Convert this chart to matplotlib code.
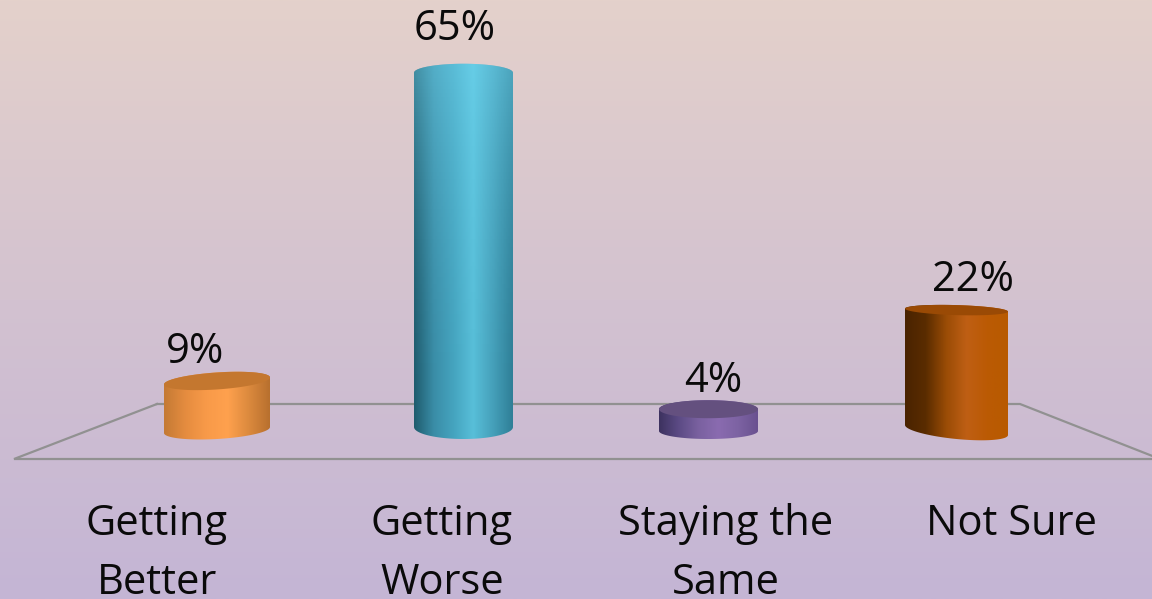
import numpy as np
import matplotlib
matplotlib.use("Agg")
import matplotlib.pyplot as plt
from matplotlib.colors import LinearSegmentedColormap, to_rgb
from matplotlib.path import Path
from matplotlib.patches import PathPatch

categories = ["Getting\nBetter", "Getting\nWorse", "Staying the\nSame", "Not Sure"]
values = [9, 65, 4, 22]

# look of each cylinder, sizes in pixels
centers_px = [217, 463.5, 708.5, 956.5]
half_w = [53, 49.5, 49.5, 51.5]
base_px = [430, 427, 431, 430]
tilt_top = [-3.5, 0, 0, 1.5]
tilt_bot = [-3, 0, 0, 5]
b_top = [8.5, 9, 9, 5]
b_bot = [9, 12, 8, 9]
body_stops = [
    ["#c47a35", "#e58c3f", "#f89a49", "#ffa14e", "#dc8a3e", "#b8702e"],
    ["#1f5c6e", "#3a8da7", "#45a4bf", "#58bfd9", "#45a0ba", "#2f7f97"],
    ["#3d3260", "#5c4b85", "#7a61a0", "#8a6bb0", "#7d63a3", "#6a5190"],
    ["#4a2300", "#5a2c00", "#9a4c06", "#bf5f14", "#bb5a04", "#b85a00"],
]
cap_stops = ["#c4772f", None, "#64507f", "#9a4a05"]
value_x_px = [195, 455, 713, 973]
value_y_px = [363, 40, 392, 291]
label_x_px = [157, 442, 726, 1011]

W, H = 1152, 599
PX_PER_X = 246.5
PX_PER_PCT = 5.45
ZERO_Y = 430


def x_data(px):
    return (px - centers_px[0]) / PX_PER_X


def y_data(py):
    return (ZERO_Y - py) / PX_PER_PCT


fig = plt.figure(figsize=(W / 100, H / 100), dpi=100)
ax = fig.add_axes([0, 0, 1, 1])
ax.set_axis_off()

# background
bg = LinearSegmentedColormap.from_list("bg", ["#e4d1cb", "#d3c2d0", "#c4b5d5"])
ax.imshow(np.linspace(0, 1, 256).reshape(-1, 1), cmap=bg, aspect="auto",
          extent=(0, 1, 0, 1), transform=ax.transAxes, zorder=0)

ax.set_xlim(x_data(0), x_data(W))
ax.set_ylim(y_data(H), y_data(0))
ax.autoscale(False)

# floor
floor_x = [x_data(p) for p in (157, 14, 1160, 1020, 157)]
floor_y = [y_data(p) for p in (404, 459, 459, 404, 404)]
ax.plot(floor_x, floor_y, color="#919191", lw=1.6, zorder=1, solid_joinstyle="miter")

t = np.linspace(0, 2 * np.pi, 120)


def ellipse(cx, cy, a, b, tilt, th):
    # cx, cy in pixels, returns points in data units
    px = cx + a * np.cos(th)
    py = cy + b * np.sin(th) + tilt * np.cos(th)
    return x_data(px), y_data(py)


for i, val in enumerate(values):
    cx = centers_px[i]
    a = half_w[i]
    bot = base_px[i]
    top = bot - val * PX_PER_PCT

    # body outline: bottom half of the lower ellipse, then back along the top
    th_bot = np.linspace(0, np.pi, 60)
    th_top = np.linspace(np.pi, 2 * np.pi, 60)
    bx, by = ellipse(cx, bot, a, b_bot[i], tilt_bot[i], th_bot)
    tx, ty = ellipse(cx, top, a, b_top[i], tilt_top[i], th_top)
    verts = np.column_stack([np.r_[bx, tx], np.r_[by, ty]])
    clip = PathPatch(Path(np.vstack([verts, verts[0]]), closed=True),
                     transform=ax.transData, fc="none", ec="none")
    ax.add_patch(clip)

    cmap = LinearSegmentedColormap.from_list(f"c{i}", body_stops[i])
    img = ax.imshow(np.linspace(0, 1, 200).reshape(1, -1), cmap=cmap, aspect="auto",
                    extent=(x_data(cx - a), x_data(cx + a), y_data(bot + 20), y_data(top - 20)),
                    zorder=2, interpolation="bilinear")
    img.set_clip_path(clip)

    # the tall one gets brighter towards the top
    if val > 50:
        glow = np.zeros((100, 2, 4))
        glow[..., :3] = to_rgb("#7fe6ff")
        glow[..., 3] = (np.linspace(0.4, 0, 100) ** 2 / 0.4)[:, None]
        im2 = ax.imshow(glow, aspect="auto", zorder=2.5,
                        extent=(x_data(cx - a), x_data(cx + a), y_data(bot), y_data(top - 20)))
        im2.set_clip_path(clip)

    # cap
    if cap_stops[i]:
        ex, ey = ellipse(cx, top, a, b_top[i], tilt_top[i], t)
        ax.fill(ex, ey, color=cap_stops[i], lw=0, zorder=3)

    ax.text(x_data(value_x_px[i]), y_data(value_y_px[i]), f"{val}%", family="Open Sans", fontsize=30,
            color="#0a0a0a", ha="center", va="baseline", zorder=4)

    lines = categories[i].split("\n")
    for j, line in enumerate(lines):
        ax.text(x_data(label_x_px[i]), y_data(535 + j * 59), line, family="Open Sans", fontsize=30,
                color="#0a0a0a", ha="center", va="baseline", zorder=4)

fig.savefig("out.png", dpi=100)
